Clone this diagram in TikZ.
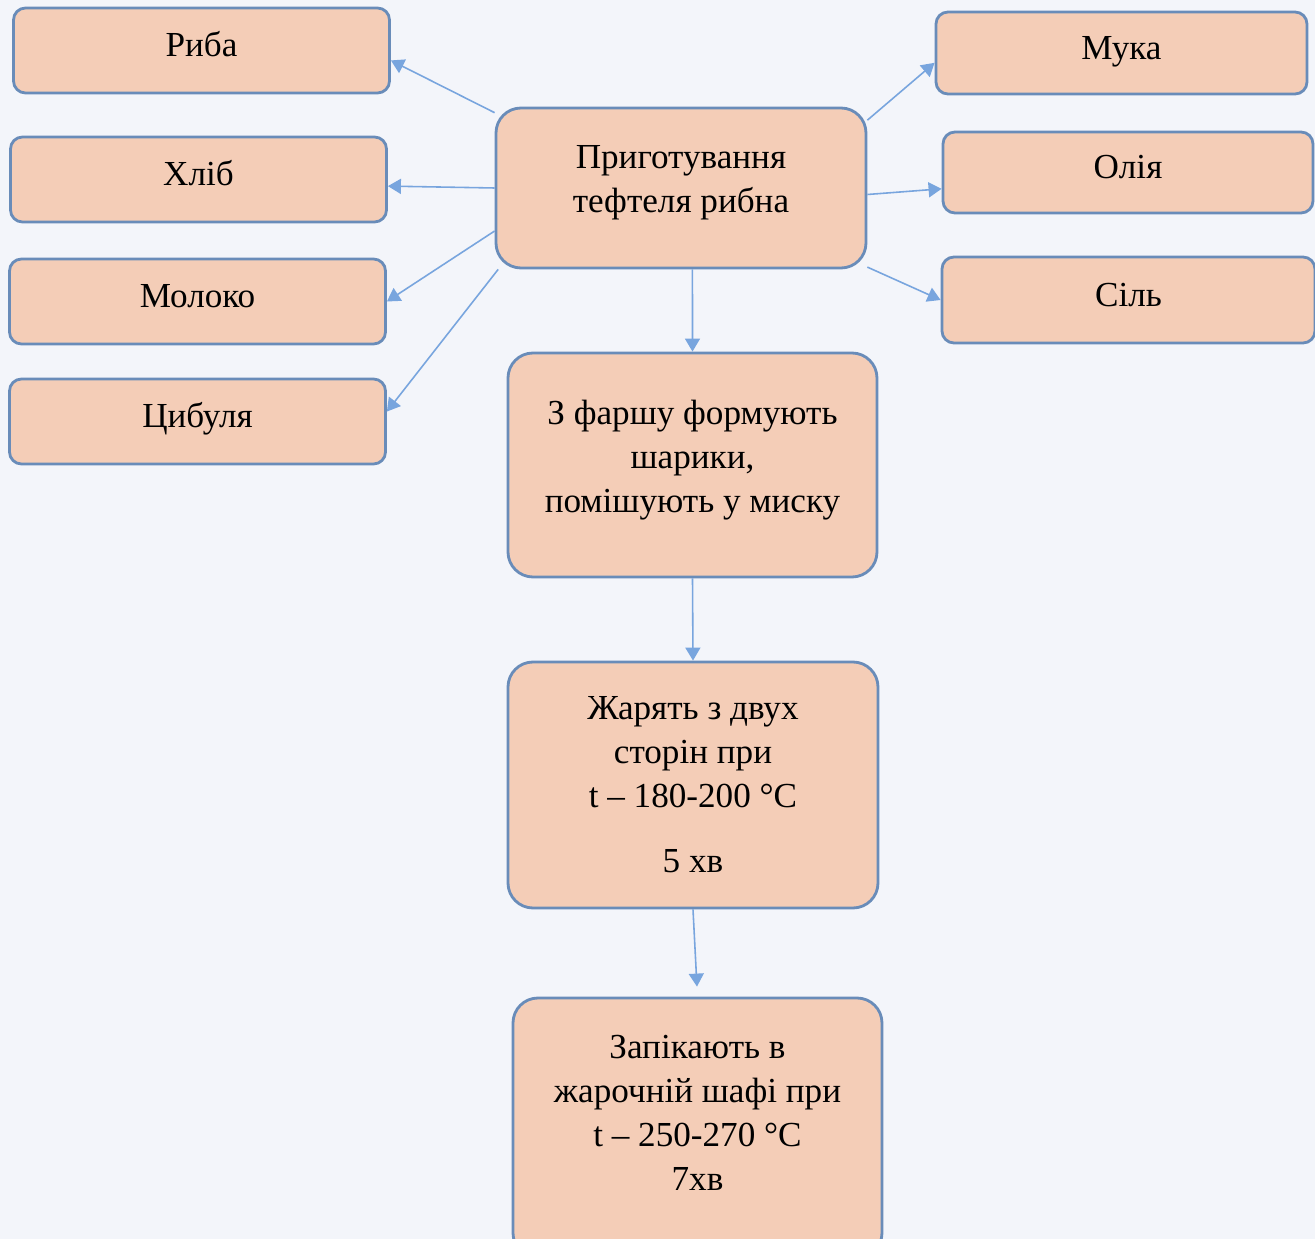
\documentclass[tikz,border=0pt]{standalone}
\usepackage{fontspec}
\setmainfont{Liberation Serif}
\usetikzlibrary{arrows.meta}
\definecolor{boxfill}{RGB}{244,205,183}
\definecolor{boxline}{RGB}{105,140,185}
\definecolor{arrowline}{RGB}{120,165,222}
\definecolor{paper}{RGB}{243,245,250}
\tikzset{->, >={Triangle[length=1.3mm,width=1.5mm]},
	item/.style={draw=boxline, fill=boxfill, line width=0.8pt, rounded corners=1.2mm, minimum width=3.76cm, minimum height=0.85cm, inner sep=0pt, align=center, text height=7pt, text depth=3.3pt, font=\fontsize{10}{12.5}\selectfont},
	stage/.style={draw=boxline, fill=boxfill, line width=0.8pt, rounded corners=2.5mm, minimum width=3.69cm, inner sep=0pt, align=center, font=\fontsize{10}{12.5}\selectfont},
	link/.style={color=arrowline, line width=0.45pt}}

\begin{document}
\begin{tikzpicture}
			\clip (0,0) rectangle (13.15,-12.39);
			\fill[paper] (0,0) rectangle (13.15,-12.39);
			\node (riba) [item] at (2.015,-0.505) {Риба};
			\node (khlib) [item] at (1.985,-1.795) {Хліб};
			\node (moloko) [item] at (1.975,-3.015) {Молоко};
			\node (tsybulia) [item] at (1.975,-4.215) {Цибуля};
			\node (main) [stage, minimum width=3.70cm, minimum height=1.60cm, text depth=5pt] at (6.81,-1.88) {Приготування\\ тефтеля рибна};
			\node (muka) [item, minimum width=3.71cm, minimum height=0.82cm] at (11.215,-0.53) {Мука};
			\node (oliia) [item, minimum width=3.70cm, minimum height=0.81cm] at (11.28,-1.725) {Олія};
			\node (sil) [item, minimum width=3.73cm, minimum height=0.86cm] at (11.285,-3.00) {Сіль};
			\node (farsh) [stage, minimum height=2.24cm, text depth=5pt] at (6.925,-4.65) {З фаршу формують\\ шарики,\\ помішують у миску};
			\node (zhariat) [stage, minimum width=3.70cm, minimum height=2.46cm] at (6.93,-7.85) {Жарять з двух\\ сторін при\\ t – 180-200 °C\\[6pt] 5 хв};
			\node (zapik) [stage, minimum height=2.60cm, text depth=8.5pt] at (6.975,-11.28) {Запікають в\\ жарочній шафі при\\ t – 250-270 °C\\ 7хв};
			\path[link] (main.158) edge (riba.-3)
			(main.west) edge (khlib.-2)
			(main.193) edge (moloko.east)
			(main.204) edge (tsybulia.3)
			(main.20) edge (muka.183)
			(main.-2) edge (oliia.185)
			(main.-23) edge (sil.west)
			(main.-82) edge (farsh.north)
			(farsh.south) edge (zhariat.north)
			(zhariat.south) edge[shorten >=1mm] (zapik.north);
		\end{tikzpicture}
\end{document}
